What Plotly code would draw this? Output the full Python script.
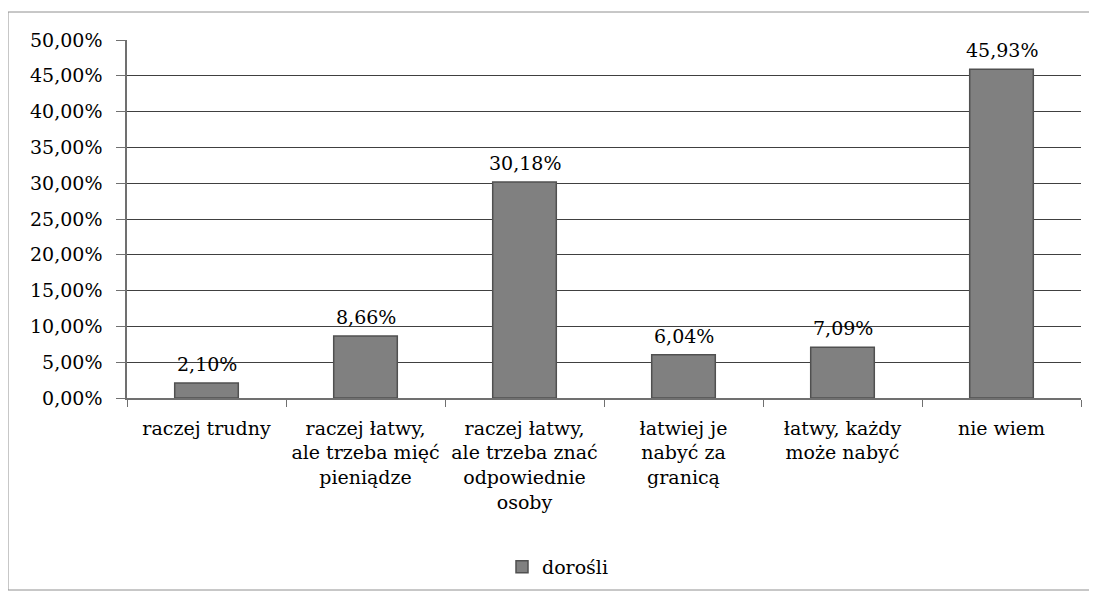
import plotly.graph_objects as go

categories = [
    "raczej trudny",
    "raczej łatwy,<br>ale trzeba mięć<br>pieniądze",
    "raczej łatwy,<br>ale trzeba znać<br>odpowiednie<br>osoby",
    "łatwiej je<br>nabyć za<br>granicą",
    "łatwy, każdy<br>może nabyć",
    "nie wiem",
]
values = [2.10, 8.66, 30.18, 6.04, 7.09, 45.93]
value_labels = ["2,10%", "8,66%", "30,18%", "6,04%", "7,09%", "45,93%"]
y_ticks = [0, 5, 10, 15, 20, 25, 30, 35, 40, 45, 50]
series_name = "dorośli"

FONT = "DejaVu Serif"
FS = 19

# page body has an 8px default margin: compensate
OFF = 8
L, R, T, B = 127 - OFF, 1081 - OFF, 40 - OFF, 398 - OFF
W, H = 1097 - OFF, 598 - OFF
pw, ph = R - L, B - T

fig = go.Figure()
fig.add_trace(go.Bar(
    x=categories,
    y=values,
    name=series_name,
    marker=dict(color="#808080", line=dict(color="#505050", width=1.5)),
    width=0.4,
    showlegend=True,
))

annotations = [
    dict(x=c, y=v, xref="x", yref="y", text=t, showarrow=False,
         yanchor="bottom", yshift=6,
         font=dict(size=FS, family=FONT, color="black"))
    for c, v, t in zip(categories, values, value_labels)
]

fig.update_layout(
    width=W,
    height=H,
    paper_bgcolor="white",
    plot_bgcolor="white",
    margin=dict(l=L, r=W - R, t=T, b=H - B, autoexpand=False),
    font=dict(family=FONT, size=FS, color="black"),
    separators=", ",
    showlegend=True,
    annotations=annotations,
    legend=dict(
        orientation="h",
        xref="container", yref="container",
        x=(558 - OFF) / W, y=1 - (567 - OFF) / H,
        xanchor="center", yanchor="middle",
        font=dict(size=FS, family=FONT),
        itemwidth=30,
    ),
    xaxis=dict(
        showline=True,
        linecolor="#707070",
        linewidth=1.5,
        ticks="outside",
        tickson="boundaries",
        ticklen=7,
        tickcolor="#707070",
        showgrid=False,
        automargin=False,
        tickangle=0,
        ticklabelstandoff=12,
        tickfont=dict(size=FS, family=FONT),
    ),
    yaxis=dict(
        range=[0, 50],
        tickvals=y_ticks,
        ticktext=[f"{v:.2f}%".replace(".", ",") for v in y_ticks],
        showline=True,
        linecolor="#707070",
        linewidth=1.5,
        ticks="outside",
        ticklen=9,
        tickcolor="#707070",
        showgrid=True,
        gridcolor="#404040",
        gridwidth=1,
        zeroline=False,
        automargin=False,
        ticklabelstandoff=10,
        tickfont=dict(size=FS, family=FONT),
    ),
    shapes=[dict(
        type="rect", xref="paper", yref="paper",
        x0=(8 - OFF - L) / pw, x1=(1092 - OFF - L) / pw,
        y0=-(590 - OFF - B) / ph, y1=1 + (T - (12 - OFF)) / ph,
        line=dict(color="#909090", width=1),
        fillcolor="rgba(0,0,0,0)",
        layer="below",
    )],
)

fig.write_html("out.html")
